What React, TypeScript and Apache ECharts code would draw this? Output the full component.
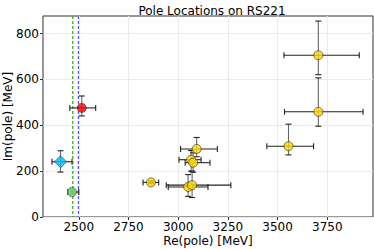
import React, { useEffect, useRef } from "react";
import * as echarts from "echarts";

const labels = ["red", "blue", "green", "y1", "y2", "y3", "y4", "y5", "y6", "y7", "y8", "y9"];
const reVals = [2515, 2408, 2466, 2863, 3093, 3065, 3075, 3050, 3070, 3555, 3705, 3705];
const imVals = [476, 241, 109, 151, 297, 250, 237, 131, 139, 309, 459, 706];
const reLo = [2455, 2365, 2445, 2823, 3012, 3004, 3035, 2950, 2940, 3446, 3535, 3532];
const reHi = [2585, 2466, 2500, 2902, 3197, 3115, 3160, 3150, 3265, 3681, 3930, 3911];
const imLo = [441, 196, 100, 145, 263, 200, 195, 90, 85, 271, 396, 621];
const imHi = [528, 289, 118, 158, 347, 290, 280, 185, 200, 405, 607, 855];
const fills = ["#ff0000", "#00bfff", "#77dd77", "#ffd700", "#ffd700", "#ffd700", "#ffd700", "#ffd700", "#ffd700", "#ffd700", "#ffd700", "#ffd700"];
const shapes = ["circle", "diamond", "circle", "circle", "circle", "circle", "circle", "circle", "circle", "circle", "circle", "circle"];

const thresholds = [2470, 2498];
const thresholdColors = ["#22aa22", "#5555ff"];

const xTicks = [2500, 2750, 3000, 3250, 3500, 3750];
const yTicks = [0, 200, 400, 600, 800];

const FONT = "DejaVu Sans";

export default function App() {
  const ref = useRef<HTMLDivElement>(null);
  useEffect(() => {
    if (!ref.current) return;
    const chart = echarts.init(ref.current, null, { renderer: "svg" });
    const errData = labels.map((_, i) => [reVals[i], imVals[i], reLo[i], reHi[i], imLo[i], imHi[i]]);
    const cap = 3;
    const option: any = {
      animation: false,
      title: {
        text: "Pole Locations on RS221",
        left: 207,
        textAlign: "center",
        top: 0,
        textStyle: { fontFamily: FONT, fontSize: 12, fontWeight: "normal", color: "#000" },
      },
      grid: { left: 43, right: 1, top: 16, bottom: 32, show: true, borderColor: "#333", borderWidth: 1, backgroundColor: "transparent", containLabel: false, outerBoundsMode: "none" },
      xAxis: {
        type: "value",
        min: 2320,
        max: 3980,
        name: "Re(pole) [MeV]",
        nameLocation: "middle",
        nameGap: 18,
        nameMoveOverlap: false,
        nameTextStyle: { fontFamily: FONT, fontSize: 12, color: "#000" },
        axisLine: { show: false },
        axisTick: { show: true, length: 3, lineStyle: { color: "#333" }, customValues: xTicks },
        axisLabel: { fontFamily: FONT, fontSize: 12, color: "#000", margin: 4, customValues: xTicks, formatter: (v: number) => String(v) },
        splitLine: { show: true, lineStyle: { color: "#ebebeb", width: 1 } },
      },
      yAxis: {
        type: "value",
        min: 0,
        max: 877,
        name: "Im(pole) [MeV]",
        nameLocation: "middle",
        nameGap: 29,
        nameMoveOverlap: false,
        nameTextStyle: { fontFamily: FONT, fontSize: 12, color: "#000" },
        axisLine: { show: false },
        axisTick: { show: true, length: 3, lineStyle: { color: "#333" }, customValues: yTicks },
        axisLabel: { fontFamily: FONT, fontSize: 12, color: "#000", margin: 4, customValues: yTicks, formatter: (v: number) => String(v) },
        splitLine: { show: true, lineStyle: { color: "#ebebeb", width: 1 } },
      },
      series: [
        {
          type: "custom",
          silent: true,
          z: 1,
          data: thresholds.map((t, i) => [t, i]),
          renderItem: (params: any, api: any) => {
            const p = api.coord([api.value(0), 0]);
            const cs = params.coordSys;
            return {
              type: "line",
              shape: { x1: p[0], y1: cs.y, x2: p[0], y2: cs.y + cs.height },
              style: { stroke: thresholdColors[api.value(1)], lineWidth: 1.2, lineDash: [3, 2] },
            };
          },
        },
        {
          type: "custom",
          data: errData,
          renderItem: (params: any, api: any) => {
            const x = api.value(0);
            const y = api.value(1);
            const pLo = api.coord([api.value(2), y]);
            const pHi = api.coord([api.value(3), y]);
            const qLo = api.coord([x, api.value(4)]);
            const qHi = api.coord([x, api.value(5)]);
            const hs = { stroke: "#222", lineWidth: 1.1 };
            const vs = { stroke: "#666", lineWidth: 1.1 };
            return {
              type: "group",
              children: [
                { type: "line", shape: { x1: pLo[0], y1: pLo[1], x2: pHi[0], y2: pHi[1] }, style: hs },
                { type: "line", shape: { x1: pLo[0], y1: pLo[1] - cap, x2: pLo[0], y2: pLo[1] + cap }, style: hs },
                { type: "line", shape: { x1: pHi[0], y1: pHi[1] - cap, x2: pHi[0], y2: pHi[1] + cap }, style: hs },
                { type: "line", shape: { x1: qLo[0], y1: qLo[1], x2: qHi[0], y2: qHi[1] }, style: vs },
                { type: "line", shape: { x1: qLo[0] - cap, y1: qLo[1], x2: qLo[0] + cap, y2: qLo[1] }, style: hs },
                { type: "line", shape: { x1: qHi[0] - cap, y1: qHi[1], x2: qHi[0] + cap, y2: qHi[1] }, style: hs },
              ],
            };
          },
          z: 2,
        },
        {
          type: "scatter",
          z: 3,
          data: labels.map((_, i) => ({
            value: [reVals[i], imVals[i]],
            symbol: shapes[i],
            symbolSize: shapes[i] === "diamond" ? 12 : 9,
            itemStyle: { color: fills[i], borderColor: "#333", borderWidth: 0.8 },
          })),
        },
      ],
    };
    chart.setOption(option);
    return () => chart.dispose();
  }, []);
  return <div ref={ref} style={{ width: 374, height: 249, position: "absolute", left: 0, top: 0, background: "#fff" }} />;
}
